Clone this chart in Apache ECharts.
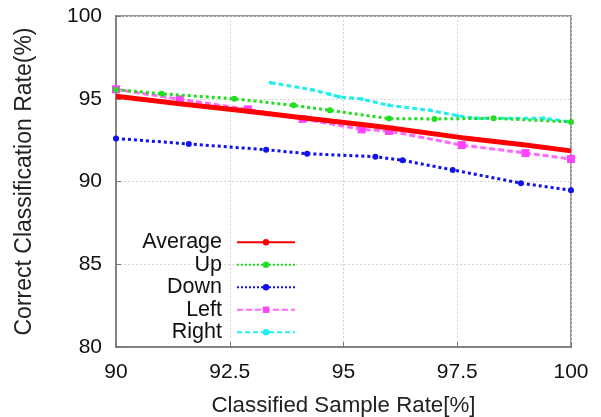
<!DOCTYPE html>
<html><head><meta charset="utf-8">
<script src="https://cdn.jsdelivr.net/npm/echarts@6/dist/echarts.min.js"></script>
<style>html,body{margin:0;padding:0;background:#fff}#c{width:601px;height:417px}</style>
</head><body><div id="c"></div>
<script>
const seriesNames = ['Average', 'Up', 'Down', 'Left', 'Right'];
const averageData = [[90,95.15],[91.4,94.7],[92.9,94.25],[94.1,93.85],[95.4,93.45],[96,93.25],[97.6,92.65],[99,92.2],[100,91.85]];
const upData = [[90,95.55],[91,95.3],[92.6,95.0],[93.9,94.6],[94.7,94.3],[96,93.8],[97,93.78],[98.3,93.82],[100,93.6]];
const downData = [[90,92.6],[91.6,92.27],[93.3,91.92],[94.2,91.68],[95.7,91.5],[96.3,91.28],[97.4,90.7],[98.9,89.9],[100,89.47]];
const leftData = [[90,95.57],[91.4,94.97],[92.9,94.36],[94.1,93.78],[95.4,93.15],[96,93.05],[97.6,92.2],[99,91.72],[100,91.36]];
const rightData = [[93.4,95.97],[94.3,95.55],[94.7,95.27],[94.9,95.12],[95.4,94.98],[96,94.6],[96.9,94.3],[97.5,93.98],[97.9,93.82],[98.3,93.82],[99.4,93.82],[100,93.6]];
const xTicks = {min: 90, max: 100, interval: 2.5};
const yTicks = {min: 80, max: 100, interval: 5};

const font = 'Liberation Sans, Arial, Helvetica, sans-serif';
const chart = echarts.init(document.getElementById('c'));
const dataSets = [averageData, upData, downData, leftData, rightData];
const styles = [
  {color:'#ff0000', width:5, type:'solid', symbol:'none', size:0},
  {color:'#22dd22', width:3, type:'dotted', symbol:'circle', size:6},
  {color:'#1111ee', width:3, type:'dotted', symbol:'circle', size:6},
  {color:'#ff44ff', width:3, type:[6,3], symbol:'rect', size:8, opacity:0.8},
  {color:'#22eeee', width:3, type:[5,3], symbol:'circle', size:4}
];
chart.setOption({
  animation: false,
  grid: {left:116, right:30, top:16, bottom:70, outerBoundsMode:'none', containLabel:false,
    show:true, borderColor:'#777', borderWidth:1.5, backgroundColor:'#fff'},
  xAxis: {type:'value', min:xTicks.min, max:xTicks.max, interval:xTicks.interval,
    name:'Classified Sample Rate[%]', nameLocation:'middle', nameGap:48,
    nameTextStyle:{fontFamily:font, fontSize:22.3, color:'#222'},
    axisLine:{show:true, lineStyle:{color:'#777', width:1.5}},
    axisTick:{show:true, inside:true, length:5, lineStyle:{color:'#777'}},
    axisLabel:{fontFamily:font, fontSize:21, color:'#111', margin:15},
    splitLine:{show:true, lineStyle:{color:'#d4d4d4', type:[2,2], width:1}}},
  yAxis: {type:'value', min:yTicks.min, max:yTicks.max, interval:yTicks.interval,
    name:'Correct Classification Rate(%)', nameLocation:'middle', nameGap:80,
    nameTextStyle:{fontFamily:font, fontSize:23, color:'#222'},
    axisLine:{show:true, lineStyle:{color:'#777', width:1.5}},
    axisTick:{show:true, inside:true, length:5, lineStyle:{color:'#777'}},
    axisLabel:{fontFamily:font, fontSize:21, color:'#111', margin:14},
    splitLine:{show:true, lineStyle:{color:'#d4d4d4', type:[2,2], width:1}}},
  legend: {orient:'vertical', align:'right', right:305, top:231, padding:0,
    itemWidth:58, itemHeight:8, itemGap:0,
    textStyle:{fontFamily:font, fontSize:21.5, color:'#111', lineHeight:22.5, padding:[0,10,0,0]},
    data: seriesNames},
  series: seriesNames.map((n,i)=>({
    name:n, type:'line', data:dataSets[i], z: 10-i,
    symbol:styles[i].symbol, symbolSize:styles[i].size, showSymbol:styles[i].symbol!=='none',
    lineStyle:{color:styles[i].color, width:styles[i].width, type:styles[i].type, opacity:styles[i].opacity||1},
    itemStyle:{color:styles[i].color}
  }))
});
</script></body></html>
